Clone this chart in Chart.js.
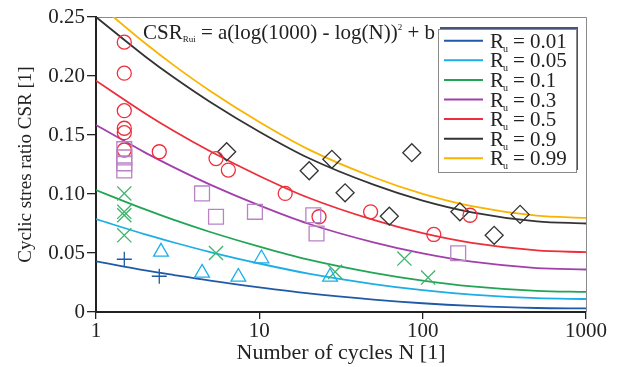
<!DOCTYPE html>
<html>
<head>
<meta charset="utf-8">
<script src="https://cdn.jsdelivr.net/npm/chart.js@4.4.1/dist/chart.umd.min.js"></script>
<style>
  html, body { margin: 0; padding: 0; background: #fff; }
  #wrap { width: 623px; height: 367px; }
</style>
</head>
<body>
<div id="wrap"><canvas id="chart"></canvas></div>
<script>
// ── Ejes ───────────────────────────────────────────────
const xTicks = [1, 10, 100, 1000];
const xTickLabels = ['1', '10', '100', '1000'];
const yTicks = [0, 0.05, 0.10, 0.15, 0.20, 0.25];
const yTickLabels = ['0', '0.05', '0.10', '0.15', '0.20', '0.25'];

const curveN   = [1, 2, 3, 5, 10, 20, 50, 100, 200, 500, 1000];
const ruLabels = ['0.01', '0.05', '0.1', '0.3', '0.5', '0.9', '0.99'];
const csrRu001 = [0.0430, 0.0353, 0.0313, 0.0265, 0.0208, 0.0157, 0.0105, 0.0074, 0.0052, 0.0034, 0.0030];
const csrRu005 = [0.0787, 0.0658, 0.0589, 0.0508, 0.0411, 0.0325, 0.0237, 0.0185, 0.0147, 0.0117, 0.0110];
const csrRu01  = [0.1033, 0.0869, 0.0780, 0.0678, 0.0554, 0.0444, 0.0332, 0.0266, 0.0217, 0.0179, 0.0170];
const csrRu03  = [0.1584, 0.1351, 0.1226, 0.1080, 0.0904, 0.0748, 0.0590, 0.0496, 0.0426, 0.0372, 0.0360];
const csrRu05  = [0.1960, 0.1683, 0.1534, 0.1362, 0.1153, 0.0968, 0.0780, 0.0668, 0.0586, 0.0522, 0.0507];
const csrRu09  = [0.2500, 0.2166, 0.1987, 0.1780, 0.1528, 0.1305, 0.1079, 0.0944, 0.0845, 0.0768, 0.0750];
const csrRu099 = [0.2625, 0.2277, 0.2090, 0.1873, 0.1610, 0.1378, 0.1142, 0.1001, 0.0897, 0.0816, 0.0798];

// ── Ensayos (puntos) ───────────────────────────────────
const plusN   = [1.49, 2.44];
const plusCSR = [0.0447, 0.0303];
const triN    = [2.5, 4.46, 7.44, 10.3, 27.1];
const triCSR  = [0.051, 0.0331, 0.0297, 0.0453, 0.0297];
const crossN   = [1.49, 1.49, 1.49, 1.49, 5.43, 29.1, 77.3, 108];
const crossCSR = [0.1005, 0.0849, 0.082, 0.065, 0.050, 0.034, 0.0453, 0.0292];
const sqN   = [1.49, 1.49, 1.49, 1.49, 4.46, 5.43, 9.4, 21.4, 22.4, 165];
const sqCSR = [0.138, 0.131, 0.126, 0.120, 0.1005, 0.0807, 0.0849, 0.082, 0.0665, 0.0498];
const circN   = [1.49, 1.49, 1.49, 1.49, 1.49, 1.49, 2.44, 5.43, 6.46, 14.4, 23.2, 48, 117, 195];
const circCSR = [0.2287, 0.2024, 0.1706, 0.1557, 0.152, 0.1373, 0.1358, 0.130, 0.1203, 0.1005, 0.0807, 0.0849, 0.0657, 0.082];
const diaN   = [6.31, 20.2, 27.8, 33.5, 62.5, 85.8, 169, 274, 395];
const diaCSR = [0.1358, 0.1197, 0.1294, 0.101, 0.0812, 0.135, 0.0849, 0.065, 0.0827];

const SERIF = "'Liberation Serif', 'Times New Roman', serif";

const COLORS = {
  blue   : '#1f5aa6',
  cyan   : '#1caee6',
  green  : '#22a455',
  purple : '#a23fab',
  red    : '#ee2e3a',
  black  : '#333333',
  orange : '#f8b400',
  sq     : '#b983c6',
  xg     : '#3cb46a'
};

const pts = (xs, ys) => xs.map((x, i) => ({ x, y: ys[i] }));

function curve(label, ys, color) {
  return {
    type: 'line', label, data: pts(curveN, ys),
    borderColor: color, borderWidth: 1.8, pointRadius: 0,
    cubicInterpolationMode: 'monotone', fill: false, isCurve: true
  };
}

function marks(xs, ys, style, r, color) {
  return {
    type: 'scatter', data: pts(xs, ys), pointStyle: style, pointRadius: r,
    borderColor: color, backgroundColor: 'rgba(0,0,0,0)', pointBorderWidth: 1.3
  };
}

const datasets = [
  marks(plusN, plusCSR, 'cross', 7.5, COLORS.blue),
  marks(triN, triCSR, 'triangle', 8.5, COLORS.cyan),
  marks(crossN, crossCSR, 'crossRot', 10, COLORS.xg),
  marks(sqN, sqCSR, 'rect', 10.5, COLORS.sq),
  marks(circN, circCSR, 'circle', 7, COLORS.red),
  marks(diaN, diaCSR, 'rectRot', 9, COLORS.black),
  curve(ruLabels[0], csrRu001, COLORS.blue),
  curve(ruLabels[1], csrRu005, COLORS.cyan),
  curve(ruLabels[2], csrRu01, COLORS.green),
  curve(ruLabels[3], csrRu03, COLORS.purple),
  curve(ruLabels[4], csrRu05, COLORS.red),
  curve(ruLabels[5], csrRu09, COLORS.black),
  curve(ruLabels[6], csrRu099, COLORS.orange)
];

// texto con sub/superíndices: [{t, size, dy}]
function drawRich(ctx, parts, x, y) {
  parts.forEach(p => {
    ctx.font = `${p.size}px ${SERIF}`;
    ctx.fillText(p.t, x, y + (p.dy || 0));
    x += ctx.measureText(p.t).width;
  });
}

const decor = {
  id: 'decor',
  beforeDatasetsDraw(chart) {
    const { ctx, chartArea: a } = chart;
    ctx.save();
    ctx.strokeStyle = '#8a8a8a';
    ctx.lineWidth = 1;
    ctx.beginPath();
    ctx.moveTo(a.left, a.top + 0.5);
    ctx.lineTo(a.right + 0.5, a.top + 0.5);
    ctx.lineTo(a.right + 0.5, a.bottom);
    ctx.stroke();
    ctx.restore();
  },
  afterDraw(chart) {
    const { ctx } = chart;
    ctx.save();
    ctx.fillStyle = '#222';
    ctx.textBaseline = 'alphabetic';
    drawRich(ctx, [
      { t: 'CSR', size: 21 },
      { t: 'Rui', size: 9, dy: 3 },
      { t: ' = a(log(1000) - log(N))', size: 21 },
      { t: '2', size: 9, dy: -9 },
      { t: ' + b', size: 21 }
    ], 143, 39);

    // leyenda
    const bx = 438, by = 29, bw = 138, bh = 143;
    ctx.fillStyle = '#46567a';
    ctx.fillRect(bx + 2, by - 2, bw, bh);
    ctx.fillStyle = '#fff';
    ctx.fillRect(bx, by, bw, bh);
    ctx.strokeStyle = '#8a8a8a';
    ctx.lineWidth = 1;
    ctx.strokeRect(bx + 0.5, by + 0.5, bw, bh);

    const curves = chart.data.datasets.filter(d => d.isCurve);
    curves.forEach((d, i) => {
      const cy = 40.7 + i * 19.6;
      ctx.strokeStyle = d.borderColor;
      ctx.lineWidth = 2;
      ctx.beginPath();
      ctx.moveTo(444, cy);
      ctx.lineTo(483, cy);
      ctx.stroke();
      ctx.fillStyle = '#222';
      ctx.font = `21px ${SERIF}`;
      ctx.fillText('R', 490, cy + 7);
      ctx.font = `10px ${SERIF}`;
      ctx.fillText('u', 503, cy + 11);
      ctx.font = `21px ${SERIF}`;
      ctx.fillText('= ' + d.label, 513, cy + 7);
    });
    ctx.restore();
  }
};

new Chart(document.getElementById('chart'), {
  data: { datasets },
  options: {
    responsive: true,
    maintainAspectRatio: false,
    animation: false,
    events: [],
    layout: { padding: { top: 17, right: 37, left: 0, bottom: 0 } },
    plugins: { legend: { display: false }, tooltip: { enabled: false } },
    scales: {
      x: {
        type: 'logarithmic', min: 1, max: 1000,
        afterBuildTicks: s => { s.ticks = xTicks.map(v => ({ value: v })); },
        afterFit: s => { s.height = 55; },
        ticks: { color: '#222', font: { family: SERIF, size: 21 }, padding: 0,
                 autoSkip: false, maxRotation: 0, callback: (v, i) => xTickLabels[i] },
        grid: { drawOnChartArea: false, drawTicks: true, tickLength: 7, color: '#222', lineWidth: 1.3 },
        border: { color: '#222', width: 2 },
        title: { display: true, text: 'Number of cycles N [1]', color: '#222',
                 font: { family: SERIF, size: 22 }, padding: { top: 0, bottom: 1 } }
      },
      y: {
        min: 0, max: 0.25,
        afterBuildTicks: s => { s.ticks = yTicks.map(v => ({ value: v })); },
        afterFit: s => { s.width = 96; },
        ticks: { color: '#222', font: { family: SERIF, size: 21 }, padding: 2,
                 autoSkip: false, callback: (v, i) => yTickLabels[i] },
        grid: { drawOnChartArea: false, drawTicks: true, tickLength: 9, color: '#222', lineWidth: 1.3 },
        border: { color: '#222', width: 2 },
        title: { display: true, text: 'Cyclic stres ratio CSR [1]', color: '#222',
                 font: { family: SERIF, size: 19 }, padding: { top: 15, bottom: 0 } }
      }
    }
  },
  plugins: [decor]
});
</script>
</body>
</html>
